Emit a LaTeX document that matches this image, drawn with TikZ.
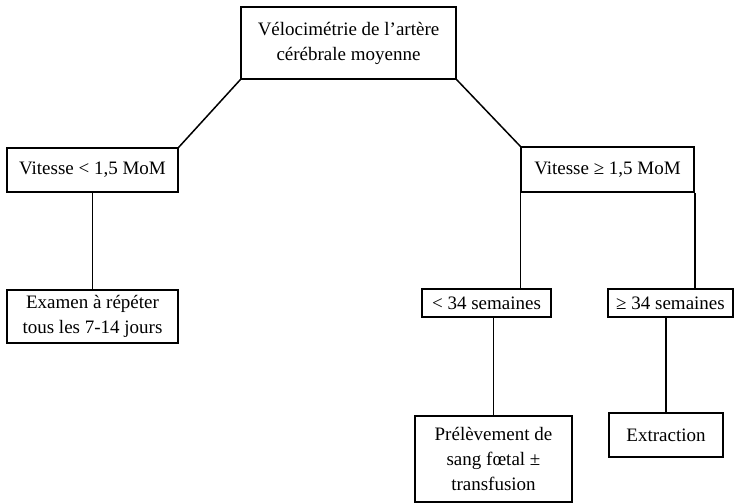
\documentclass[tikz,border=0pt]{standalone}
\usepackage{fontspec}
\setmainfont{Liberation Serif}
\usepackage{tikz}

\tikzset{boite/.style={draw, line width=1.5pt, inner sep=0pt, align=center, font=\fontsize{19}{25}\selectfont},
         lien/.style={line width=1.5pt}}

\begin{document}
\begin{tikzpicture}[x=1pt,y=-1pt]

\useasboundingbox (0,0) rectangle (736,503);

\node[boite, minimum width=215, minimum height=72] (acm) at (348.5,43) {Vélocimétrie de l’artère\\cérébrale moyenne};

\node[boite, minimum width=171, minimum height=44] (vinf) at (92.5,170) {Vitesse < 1,5 MoM};
\node[boite, minimum width=173, minimum height=45] (vsup) at (607.5,169.5) {Vitesse ≥ 1,5 MoM};

\node[boite, minimum width=171, minimum height=53] (examen) at (92.5,316.5) {Examen à répéter\\ tous les 7-14 jours};

\node[boite, minimum width=129, minimum height=28] (sinf) at (486.5,303) {< 34 semaines};
\node[boite, minimum width=125, minimum height=28] (ssup) at (670.5,303) {≥ 34 semaines};

\node[boite, minimum width=157, minimum height=86] (prel) at (493.5,459) {Prélèvement de\\sang fœtal ±\\transfusion};
\node[boite, minimum width=114, minimum height=44] (extr) at (666,435) {Extraction};

% liaisons
\draw[lien] (acm.south west) -- (vinf.north east);
\draw[lien] (acm.south east) -- (vsup.north west);
\draw[lien] (vinf.south) -- (examen.north);
\draw[lien] (vsup.south west) -- (vsup.south west |- sinf.north);
\draw[lien] (vsup.south east) -- (vsup.south east |- ssup.north);
\draw[lien] (prel.north |- sinf.south) -- (prel.north);
\draw[lien] (extr.north |- ssup.south) -- (extr.north);

\end{tikzpicture}
\end{document}
